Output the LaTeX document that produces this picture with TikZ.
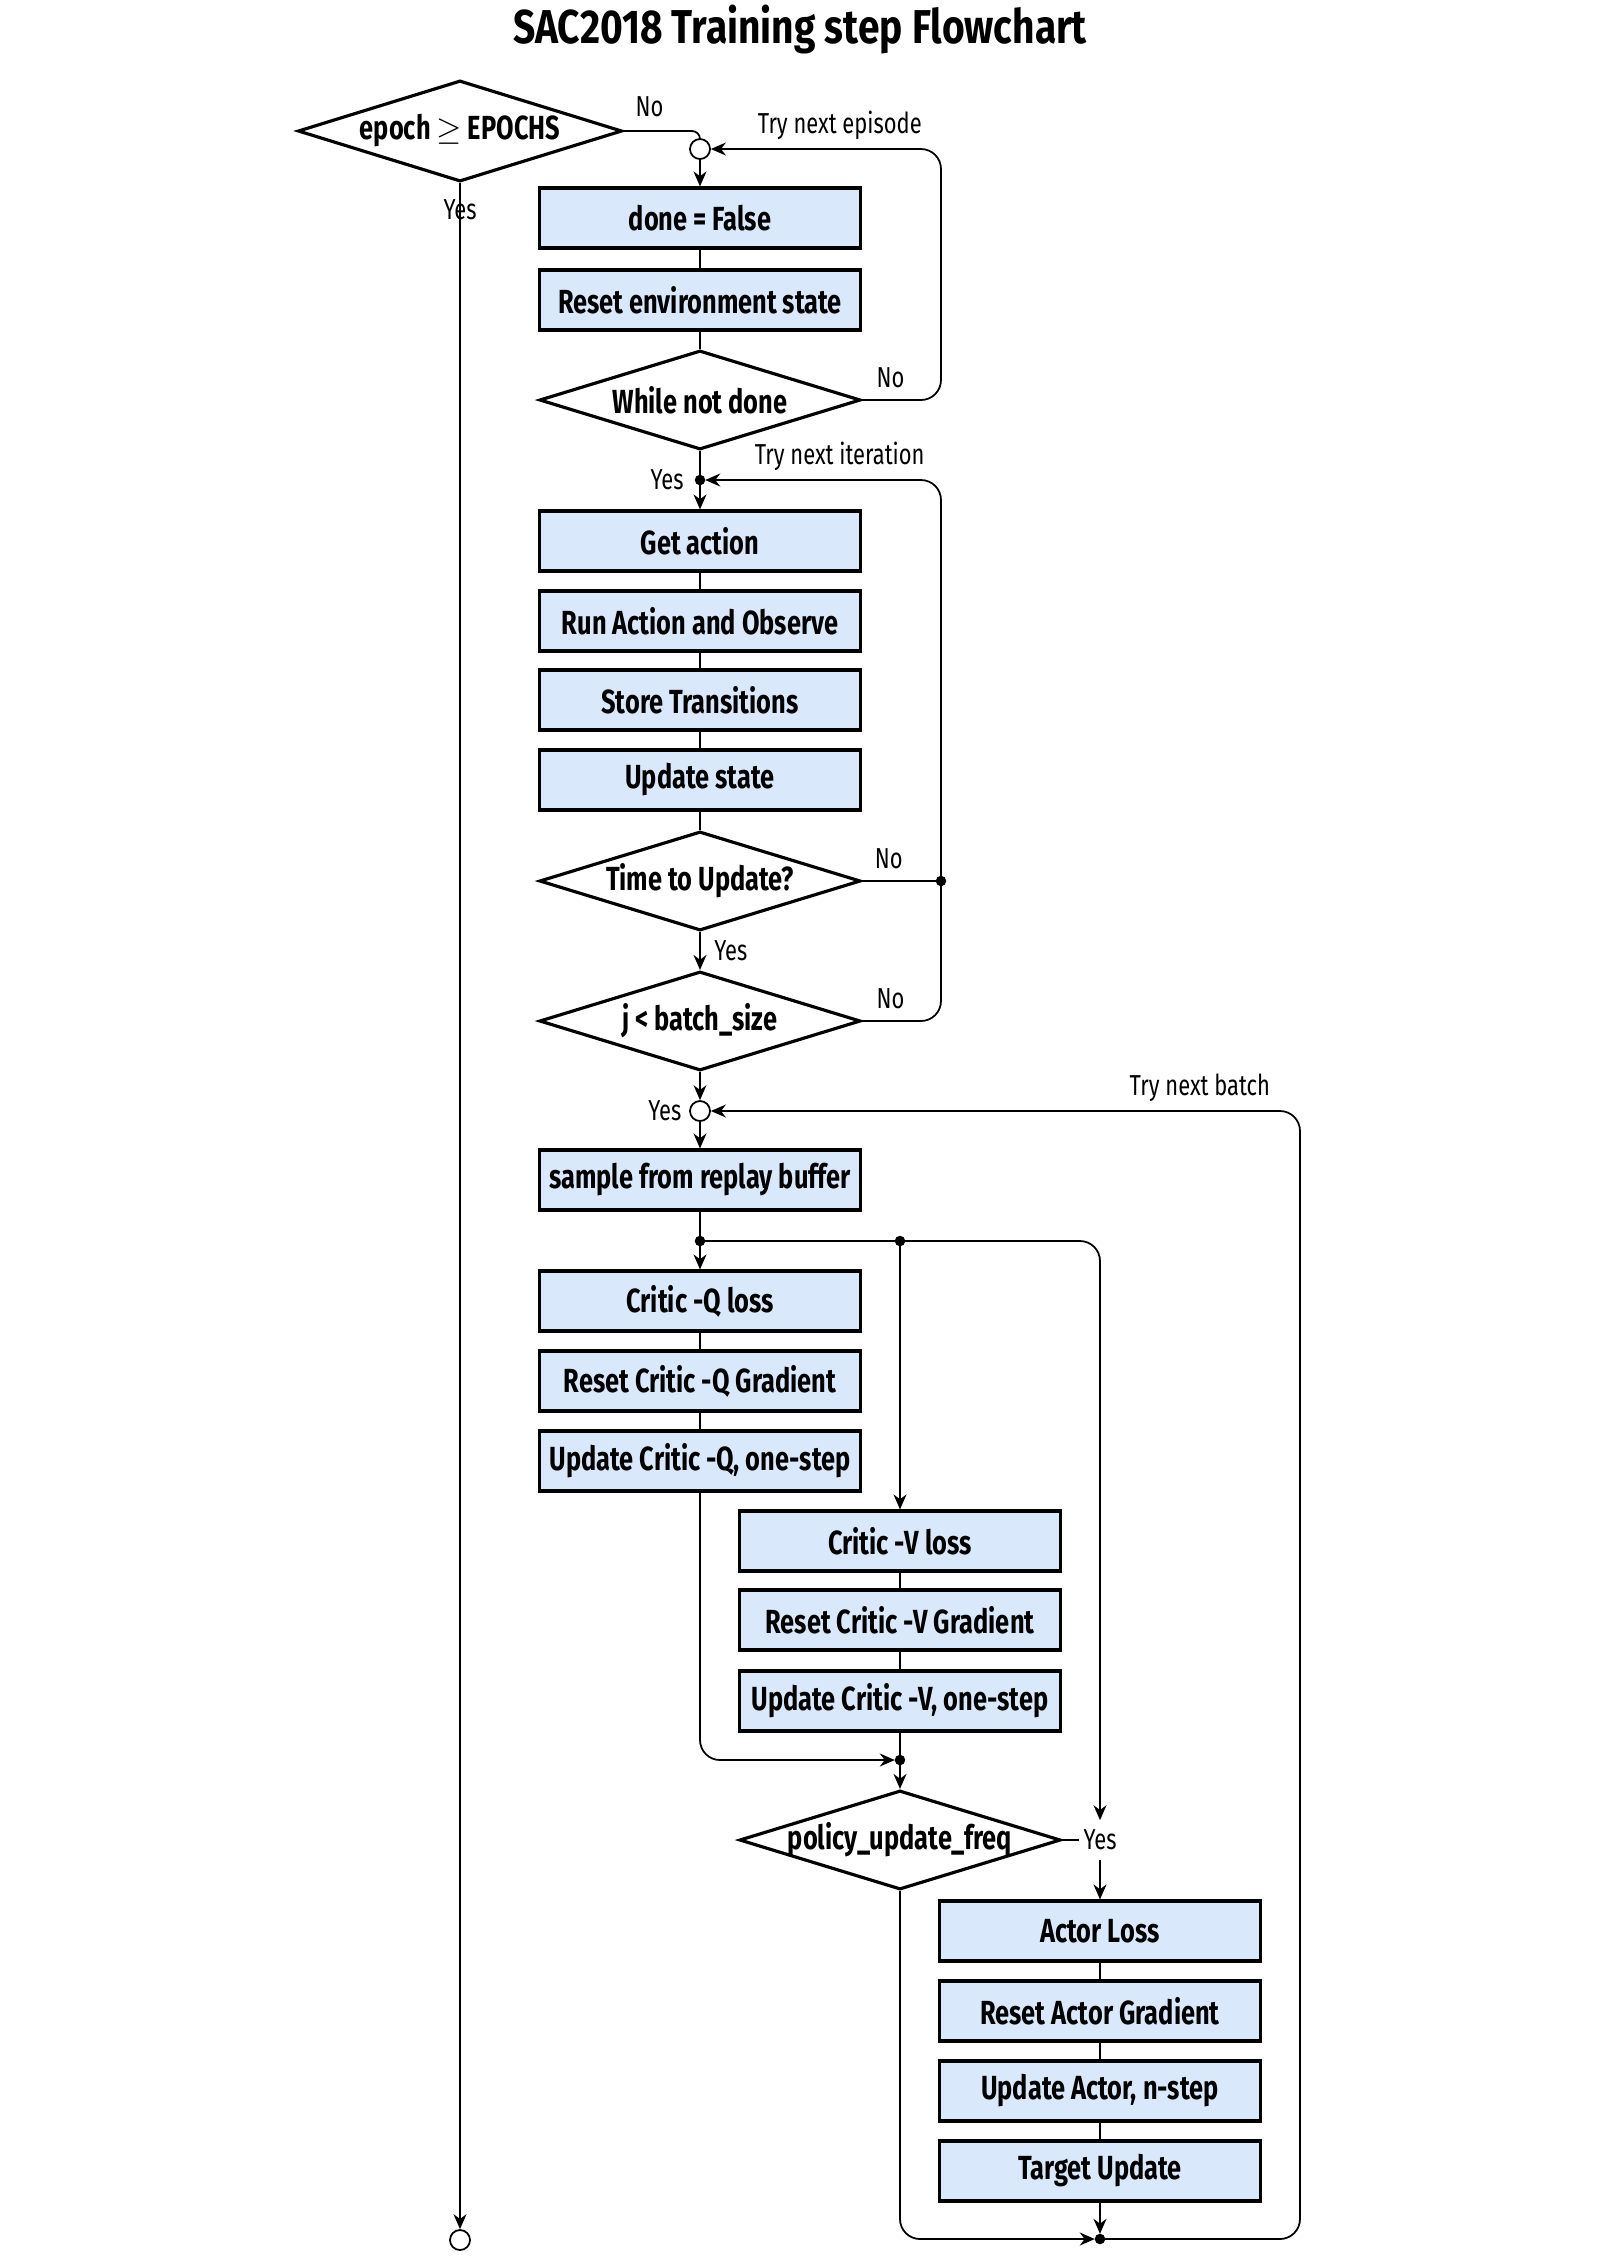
\documentclass[tikz,border=0pt]{standalone}
\usepackage{fontspec}
\setmainfont{Fira Sans}[FakeStretch=0.76]
\newfontfamily\titlefont{Fira Sans}[FakeStretch=0.82]
\usetikzlibrary{shapes.geometric,arrows.meta}

\definecolor{boxfill}{HTML}{DAE8FC}

\newcommand*{\xmain}{700}
\newcommand*{\xside}{900}
\newcommand*{\xact}{1100}
\newcommand*{\xloop}{941}
\newcommand*{\xouter}{1300}

\begin{document}
\begin{tikzpicture}
[
	x=0.01cm,
	y=-0.01cm,
	stepbox/.style={rectangle,draw,line width=0.9pt,fill=boxfill,minimum width=3.21cm,minimum height=0.6cm,inner sep=0pt,font={\fontsize{9.5}{11}\selectfont\bfseries}},
	decide/.style={diamond,aspect=3.2,draw,line width=0.9pt,fill=white,minimum width=3.21cm,minimum height=0.99cm,inner sep=0pt,font={\fontsize{9.5}{11}\selectfont\bfseries}},
	dotpt/.style={circle,draw,fill,inner sep=0pt,minimum size=0.09cm},
	ringpt/.style={circle,draw,fill=white,line width=0.5pt,inner sep=0pt,minimum size=0.2cm},
	lbl/.style={font={\fontsize{8.2}{9}\selectfont},inner sep=1pt},
	link/.style={line width=0.5pt,rounded corners=0.2cm},
	flow/.style={link,-{Stealth[length=0.15cm,width=0.13cm]}}
]

	\useasboundingbox (0,0) rectangle (1600,2262);

	% title
	\node[font={\fontsize{13.5}{16}\titlefont\bfseries}] (title) at (800,30) {SAC2018 Training step Flowchart};

	% episode loop
	\node[decide,minimum width=3.24cm,minimum height=1.01cm] (epoch) at (460,131) {epoch $\geq$ EPOCHS};
	\node[ringpt] (epstart) at (\xmain,149) {};
	\node[stepbox] (done) at (\xmain,218) {done = False};
	\node[stepbox] (reset) at (\xmain,300) {Reset environment state};
	\node[decide] (notdone) at (\xmain,400) {While not done};
	\node[dotpt] (itstart) at (\xmain,480) {};
	\node[lbl,anchor=east] at ([xshift=-2pt]itstart.west) {Yes};

	% iteration
	\node[stepbox] (getact) at (\xmain,541) {Get action};
	\node[stepbox] (runact) at (\xmain,621) {Run Action and Observe};
	\node[stepbox] (store) at (\xmain,700) {Store Transitions};
	\node[stepbox] (upstate) at (\xmain,780) {Update state};
	\node[decide] (timeup) at (\xmain,881) {Time to Update?};
	\node[dotpt] (itback) at (\xloop,881) {};
	\node[decide] (batch) at (\xmain,1021) {j\,<\,batch\_size};
	\node[ringpt] (bstart) at (\xmain,1111) {};
	\node[lbl,anchor=east] at ([xshift=-1pt]bstart.west) {Yes};

	% batch update
	\node[stepbox] (sample) at (\xmain,1180) {sample from replay buffer};
	\node[dotpt] (split) at (\xmain,1241) {};
	\node[dotpt] (splitv) at (\xside,1241) {};
	\node[stepbox] (qloss) at (\xmain,1301) {Critic -Q loss};
	\node[stepbox] (qgrad) at (\xmain,1381) {Reset Critic -Q Gradient};
	\node[stepbox] (qupd) at (\xmain,1461) {Update Critic -Q, one-step};
	\node[stepbox] (vloss) at (\xside,1541) {Critic -V loss};
	\node[stepbox] (vgrad) at (\xside,1620) {Reset Critic -V Gradient};
	\node[stepbox] (vupd) at (\xside,1701) {Update Critic -V, one-step};
	\node[dotpt] (merge) at (\xside,1760) {};
	\node[decide,inner sep=-0.1cm] (policy) at (\xside,1840) {policy\_update\_freq};
	\node[lbl,inner xsep=1pt,inner ysep=0.09cm] (polyes) at (\xact,1840) {Yes};
	\node[stepbox] (aloss) at (\xact,1931) {Actor Loss};
	\node[stepbox] (agrad) at (\xact,2011) {Reset Actor Gradient};
	\node[stepbox] (aupd) at (\xact,2091) {Update Actor, n-step};
	\node[stepbox] (target) at (\xact,2171) {Target Update};
	\node[dotpt] (bend) at (\xact,2239) {};
	\node[ringpt] (stop) at (460,2240) {};

	% connectors
	\draw[flow] (epoch.south) -- node[lbl,pos=0.013] {Yes} (stop);
	\draw[link,rounded corners=0.08cm] (epoch.east) -| node[lbl,pos=0.17,above=0.1cm] {No} (epstart.north);
	\draw[flow] (epstart) -- (done);
	\draw[link] (done) -- (reset);
	\draw[link] (reset) -- (notdone);
	\draw[flow] (notdone.east) -- node[lbl,pos=0.36,above=0.08cm] {No} (\xloop,400) -- (\xloop,149)
		-- node[lbl,pos=0.44,above=0.05cm] {Try next episode} (epstart.east);
	\draw[link] (notdone.south) -- (itstart);
	\draw[flow] (itstart) -- (getact);
	\draw[link] (getact) -- (runact);
	\draw[link] (runact) -- (store);
	\draw[link] (store) -- (upstate);
	\draw[link] (upstate) -- (timeup);
	\draw[link] (timeup.east) -- node[lbl,pos=0.36,above=0.08cm] {No} (itback);
	\draw[link] (batch.east) -- node[lbl,pos=0.36,above=0.08cm] {No} (\xloop,1021) -- (itback);
	\draw[flow] (itback) -- (\xloop,480) -- node[lbl,pos=0.43,above=0.05cm] {Try next iteration} (itstart.east);
	\draw[flow] (timeup.south) -- node[lbl,midway,right=0.1cm] {Yes} (batch.north);
	\draw[flow] (batch.south) -- (bstart);
	\draw[flow] (bstart) -- (sample);
	\draw[link] (sample) -- (split);
	\draw[flow] (split) -- (qloss);
	\draw[link] (split) -- (splitv);
	\draw[flow] (splitv) -- (vloss);
	\draw[flow] (splitv) -- (\xact,1241) -- (polyes.north);
	\draw[link] (qloss) -- (qgrad);
	\draw[link] (qgrad) -- (qupd);
	\draw[flow] (qupd.south) -- (\xmain,1760) -- (merge.west);
	\draw[link] (vloss) -- (vgrad);
	\draw[link] (vgrad) -- (vupd);
	\draw[link] (vupd) -- (merge);
	\draw[flow] (merge) -- (policy.north);
	\draw[link] (policy.east) -- (polyes.west);
	\draw[flow] (polyes.south) -- (aloss);
	\draw[link] (aloss) -- (agrad);
	\draw[link] (agrad) -- (aupd);
	\draw[link] (aupd) -- (target);
	\draw[flow] (target) -- (bend);
	\draw[flow] (policy.south) -- (\xside,2239) -- (bend.west);
	\draw[flow] (bend.east) -- (\xouter,2239) -- (\xouter,1111)
		-- node[lbl,pos=0.17,above=0.05cm] {Try next batch} (bstart.east);

\end{tikzpicture}
\end{document}
